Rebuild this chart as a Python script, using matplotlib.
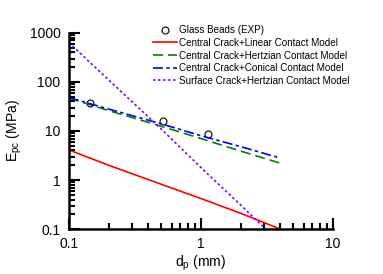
import numpy as np
import matplotlib
matplotlib.use("Agg")
import matplotlib.pyplot as plt

plt.rcParams['font.family'] = ['Liberation Sans', 'DejaVu Sans']

# experimental points
exp_d = [0.144, 0.515, 1.13]
exp_e = [37, 16, 8.7]

# model curves
lin_d = [0.1, 0.2, 0.5, 1.0, 2.0, 4.0]
lin_e = [4.1, 2.0, 0.82, 0.42, 0.21, 0.10]

hertz_d = [0.1, 0.2, 0.5, 1.0, 2.0, 4.0]
hertz_e = [47, 26, 12.5, 7.0, 3.9, 2.2]

conic_d = [0.1, 0.2, 0.5, 1.0, 2.0, 4.0]
conic_e = [48, 28, 14, 8.0, 4.8, 2.8]

surf_d = [0.1, 0.2, 0.5, 1.0, 2.0, 3.1]
surf_e = [630, 110, 11, 1.8, 0.31, 0.10]

fig = plt.figure(figsize=(3.83, 2.74), dpi=100)
ax = fig.add_axes([0.180, 0.164, 0.689, 0.716])

ax.plot(exp_d, exp_e, 'o', mfc='none', mec='black', ms=5, mew=0.8,
        label='Glass Beads (EXP)')
ax.plot(lin_d, lin_e, '-', color='red', lw=1.2,
        label='Central Crack+Linear Contact Model')
ax.plot(hertz_d, hertz_e, '--', color='green', lw=1.2, dashes=(6, 3),
        label='Central Crack+Hertzian Contact Model')
ax.plot(conic_d, conic_e, '-.', color='blue', lw=1.2, dashes=(6, 2, 2, 2),
        label='Central Crack+Conical Contact Model')
ax.plot(surf_d, surf_e, ':', color='#8000ff', lw=1.2, dashes=(1.5, 1.5),
        label='Surface Crack+Hertzian Contact Model')

ax.set_xscale('log')
ax.set_yscale('log')
ax.set_xlim(0.1, 10)
ax.set_ylim(0.1, 1000)
ax.set_xticks([0.1, 1, 10])
ax.set_xticklabels(['0.1', '1', '10'])
ax.set_yticks([0.1, 1, 10, 100, 1000])
ax.set_yticklabels(['0.1', '1', '10', '100', '1000'])

for s in ['top', 'right']:
    ax.spines[s].set_visible(False)
for s in ['left', 'bottom']:
    ax.spines[s].set_linewidth(1.8)

ax.tick_params(which='major', direction='in', length=8, width=1.5,
               labelsize=10, pad=6)
ax.tick_params(which='minor', direction='in', length=4.5, width=1.5)

ax.set_xlabel('d$_\\mathregular{p}$ (mm)', fontsize=10, labelpad=2)
ax.set_ylabel('E$_\\mathregular{pc}$ (MPa)', fontsize=10, labelpad=4)

ax.legend(loc='upper left', bbox_to_anchor=(0.399, 0.908),
          bbox_transform=fig.transFigure, frameon=False,
          fontsize=7.1, handlelength=2.5, handletextpad=0.2,
          labelspacing=0.27, borderaxespad=0, borderpad=0)

fig.savefig('out.png', dpi=100)
